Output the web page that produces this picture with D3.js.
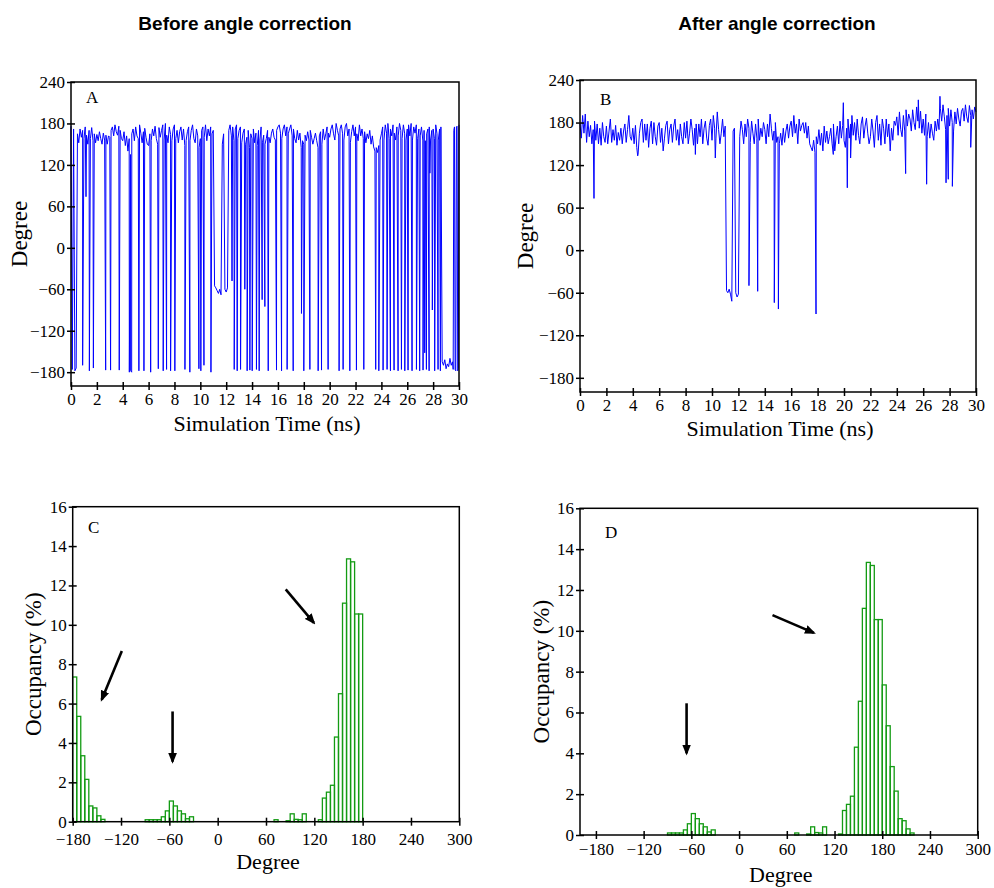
<!DOCTYPE html>
<html>
<head>
<meta charset="utf-8">
<script src="https://cdn.jsdelivr.net/npm/d3@7"></script>
<style>
  body { margin: 0; background: #fff; }
</style>
</head>
<body>
<div class="canvas"></div>
<script>
// ---- data ----
// torsion angle sampled every 0.1 ns (0 .. 30 ns), before correction
const angleBefore = [
  176, -176, 172, -178, -174, 165, 152, 172, 160, 170,
  158, 175, 163, 150, 170, 158, 174, 155, 165, 152,
  164, 155, 168, 158, 150, 166, 156, 163, 150, 162,
  160, 170, 175, 162, 178, 168, 163, 176, 170, 158,
  155, 168, 148, 162, 140, 158, 135, 165, 172, 155,
  175, 162, 158, 178, 166, 152, 168, 173, 160, 150,
  148, 165, 155, 172, 162, 176, 158, 150, 174, 160,
  170, 178, 156, 180, 163, 152, 175, 164, 155, 172,
  178, 158, 170, 152, 168, 175, 156, 172, 148, 155,
  168, 175, 155, 170, 178, 158, 152, 172, 162, 145,
  158, 170, 175, 160, 178, 155, 172, 162, 175, 165,
  170, -55, -58, -62, -66, -60, -68, 150, 165, -60,
  -64, -58, 170, 178, 162, 175, 155, 172, 178, 158,
  170, 175, 152, 166, 172, 150, 160, 170, 145, 165,
  158, 172, 152, 166, 148, 170, 156, 175, 152, 163,
  150, 158, 170, 160, 152, 166, 172, 160, 156, 170,
  175, 178, 166, 158, 172, 178, 162, 175, 165, 172,
  178, 162, 172, 158, 152, 170, 156, 166, 145, 155,
  150, 163, 155, 168, 156, 170, 160, 150, 158, 166,
  155, 145, 162, 168, 150, 172, 156, 165, 175, 166,
  160, 172, 178, 165, 156, 180, 170, 162, 172, 178,
  165, 156, 175, 180, 162, 172, 152, 168, 178, 162,
  175, 165, 155, 178, 162, 172, 158, 168, 152, 165,
  158, 170, 150, 162, 146, 140, 145, 138, 148, 156,
  165, 175, 156, 178, 166, 180, 158, 172, 162, 178,
  166, 156, 175, 162, 180, 170, 158, 178, 165, 156,
  172, 178, 162, 180, 156, 175, 166, 178, 158, 172,
  162, 175, 156, 170, 155, 165, 172, 175, 156, 170,
  172, 158, 178, 165, 156, 172, 175, -165, -170, -162,
  -175, -168, -172, -160, -170, -165, 170, -176, 175, -178,
  178
];
// short excursions between samples [ns, degree]
const dipsBefore = [
  [0.90, -170], [1.16, 74], [1.42, -178], [1.73, -174], [2.68, -177], [3.06, -177], [3.73, -177],
  [4.51, -180], [4.61, -178], [4.69, -180], [5.25, -178], [5.64, -178], [6.16, -180], [6.75, -175],
  [7.13, -178], [7.39, -176], [7.70, -178], [8.03, -178], [8.81, -176], [9.19, -180], [9.89, -175],
  [10.04, -178], [10.28, -170], [10.82, -180],
  [12.45, -48], [12.62, -176], [12.85, -178], [13.11, -176], [13.44, -60], [13.62, -178], [13.83, -177],
  [14.01, -178], [14.34, -176], [14.55, -178], [14.78, -75], [14.99, -85], [15.25, -178], [15.89, -177],
  [16.28, -178], [16.71, -176], [17.18, -178], [17.82, -95], [18.00, -178], [18.47, -176], [19.11, -178],
  [19.37, -177], [19.88, -176], [20.73, -178], [21.04, -176], [21.56, -178], [22.07, -177], [22.64, -176],
  [23.56, -176], [23.80, -178], [24.13, -177], [24.44, -176], [24.70, -178], [24.98, -177], [25.29, -178],
  [25.55, -176], [25.81, -178], [26.06, -177], [26.37, -178], [26.71, -176], [26.96, -178], [27.22, -177],
  [27.35, -152], [27.48, -176], [27.69, -178], [27.75, 108], [27.94, -90], [28.12, -178], [28.38, -176],
  [28.56, -178], [29.55, -176], [29.65, 175], [29.75, -178], [29.85, 176], [29.95, -175]
];

// torsion angle sampled every 0.1 ns, after correction
const angleAfter = [
  178, 158, 190, 165, 192, 152, 182, 160, 176, 150,
  170, 182, 155, 178, 150, 172, 148, 180, 160, 152,
  175, 150, 168, 185, 152, 170, 155, 176, 148, 166,
  155, 172, 150, 168, 178, 152, 170, 190, 160, 155,
  172, 150, 176, 145, 135, 165, 180, 185, 152, 178,
  155, 178, 145, 172, 182, 150, 180, 160, 148, 175,
  180, 152, 172, 140, 158, 176, 182, 150, 170, 178,
  152, 175, 185, 155, 170, 148, 178, 160, 150, 180,
  158, 182, 150, 165, 185, 170, 148, 172, 178, 150,
  178, 160, 185, 150, 172, 182, 158, 148, 176, 185,
  155, 190, 172, 158, 195, 170, 150, 165, 185, 160,
  175, -57, -60, -55, -62, -72, 168, 172, -60, -66,
  -62, 160, 182, 170, 150, 178, 160, 185, 172, 152,
  182, 165, 150, 178, 158, 185, 155, 172, 160, 180,
  170, 150, 178, 160, 192, 172, 155, 168, 180, 152,
  160, 150, 165, 148, 172, 152, 168, 178, 158, 175,
  182, 160, 190, 165, 178, 150, 185, 168, 176, 180,
  165, 180, 158, 175, 150, 145, 140, 155, 138, 160,
  150, 170, 148, 165, 140, 175, 152, 168, 150, 160,
  172, 150, 178, 140, 160, 175, 150, 182, 158, 176,
  155, 145, 172, 185, 158, 178, 190, 162, 180, 155,
  185, 162, 150, 178, 188, 158, 175, 186, 165, 150,
  160, 185, 168, 145, 180, 190, 155, 178, 148, 185,
  172, 150, 185, 160, 178, 140, 172, 155, 182, 176,
  188, 162, 195, 170, 160, 190, 168, 198, 175, 192,
  185, 168, 198, 180, 170, 202, 182, 172, 196, 165,
  185, 162, 192, 160, 180, 158, 178, 165, 155, 182,
  168, 185, 170, 200, 182, 205, 188, 170, 190, 200,
  175, 198, 180, 168, 195, 178, 200, 185, 175, 196,
  200, 182, 205, 188, 180, 204, 190, 198, 185, 202,
  195
];
const dipsAfter = [
  [1.06, 73], [4.37, 133], [8.74, 135], [10.25, 130],
  [12.80, -50], [13.46, -58], [14.72, -74], [15.03, -83], [17.88, -90],
  [19.19, 135], [19.95, 208], [20.25, 88], [20.50, 130], [24.67, 108], [25.63, 212],
  [26.26, 93], [27.27, 217], [27.73, 95], [27.90, 100], [28.21, 90], [29.60, 145]
];
const sampleStep = 0.1; // ns

// occupancy histograms, 5 degree bins [lower edge, %]
const binWidth = 5;
const occBefore = [
  [-180, 7.35], [-175, 5.35], [-170, 3.35], [-165, 2.15], [-160, 0.8], [-155, 0.7], [-150, 0.3], [-145, 0.12],
  [-90, 0.1], [-85, 0.1], [-80, 0.1], [-75, 0.1], [-70, 0.25], [-65, 0.55], [-60, 1.05], [-55, 0.8],
  [-50, 0.55], [-45, 0.4], [-40, 0.15], [-35, 0.25],
  [70, 0.1], [85, 0.05], [90, 0.4], [95, 0.12], [100, 0.1], [105, 0.4],
  [125, 0.1], [130, 1.2], [135, 1.5], [140, 1.85], [145, 4.3], [150, 6.5], [155, 11.1],
  [160, 13.35], [165, 13.2], [170, 10.55], [175, 10.55]
];
const occAfter = [
  [-90, 0.1], [-85, 0.1], [-80, 0.1], [-75, 0.1], [-70, 0.25], [-65, 0.55], [-60, 1.05], [-55, 0.8],
  [-50, 0.55], [-45, 0.4], [-40, 0.15], [-35, 0.25],
  [70, 0.1], [85, 0.05], [90, 0.4], [95, 0.12], [100, 0.1], [105, 0.4],
  [125, 0.05], [130, 1.2], [135, 1.5], [140, 1.9], [145, 4.3], [150, 6.55], [155, 11.1],
  [160, 13.35], [165, 13.2], [170, 10.55], [175, 10.55], [180, 7.35], [185, 5.35], [190, 3.35],
  [195, 2.15], [200, 0.8], [205, 0.7], [210, 0.3], [215, 0.1]
];

// arrows, in data units [x1, y1, x2, y2]
const arrowsC = [[-119, 8.67, -144, 6.2], [-56, 5.6, -56, 3.05], [84.5, 11.8, 119.5, 10.1]];
const arrowsD = [[-66, 6.45, -66, 4.0], [42, 10.77, 94, 9.9]];

// ticks
const timeTicks = d3.range(0, 31, 2);
const angleTicks = [-180, -120, -60, 0, 60, 120, 180, 240];
const degreeTicks = [-180, -120, -60, 0, 60, 120, 180, 240, 300];
const occTicks = [0, 2, 4, 6, 8, 10, 12, 14, 16];

// ---- drawing ----
const serif = '"Liberation Serif", "Times New Roman", serif';
const sans = '"Liberation Sans", Arial, sans-serif';

const svg = d3.select('.canvas')
  .append('svg')
  .attr('width', 994)
  .attr('height', 888)
  .style('font-family', serif);

svg.append('defs').append('marker')
  .attr('id', 'head')
  .attr('viewBox', '0 0 10 8')
  .attr('refX', 8).attr('refY', 4)
  .attr('markerWidth', 11).attr('markerHeight', 9)
  .attr('markerUnits', 'userSpaceOnUse')
  .attr('orient', 'auto')
  .append('path')
  .attr('d', 'M0,0 L10,4 L0,8 Z')
  .attr('fill', '#000');

// column titles
svg.append('text').attr('x', 245).attr('y', 30).attr('text-anchor', 'middle')
  .style('font-family', sans).style('font-weight', 'bold').style('font-size', '19px')
  .text('Before angle correction');
svg.append('text').attr('x', 777).attr('y', 30).attr('text-anchor', 'middle')
  .style('font-family', sans).style('font-weight', 'bold').style('font-size', '19px')
  .text('After angle correction');

function frame(p, x, y, xTicks, yTicks, xPad) {
  const g = svg.append('g');
  const xa = g.append('g')
    .attr('transform', `translate(0, ${p.bottom})`)
    .call(d3.axisBottom(x).tickValues(xTicks).tickSizeInner(4).tickSizeOuter(0).tickPadding(xPad));
  xa.selectAll('.tick line').attr('y1', -4).attr('stroke-width', 1.5);
  const ya = g.append('g')
    .attr('transform', `translate(${p.left}, 0)`)
    .call(d3.axisLeft(y).tickValues(yTicks).tickSizeInner(4).tickSizeOuter(0).tickPadding(2));
  ya.selectAll('.tick line').attr('x1', 4).attr('stroke-width', 1.5);
  g.selectAll('.domain').remove();
  g.selectAll('.tick text').style('font-family', serif).style('font-size', '17px').attr('fill', '#000');
  g.append('rect')
    .attr('x', p.left).attr('y', p.top)
    .attr('width', p.right - p.left).attr('height', p.bottom - p.top)
    .attr('fill', 'none').attr('stroke', '#000').attr('stroke-width', 1.5);
  return g;
}

function titles(p, xLabel, yLabel, xOff, yBase, letter, lx, ly) {
  svg.append('text')
    .attr('x', (p.left + p.right) / 2 + 2).attr('y', p.bottom + xOff)
    .attr('text-anchor', 'middle').style('font-size', '22px')
    .text(xLabel);
  svg.append('text')
    .attr('transform', `translate(${yBase}, ${(p.top + p.bottom) / 2}) rotate(-90)`)
    .attr('text-anchor', 'middle').style('font-size', '23px')
    .text(yLabel);
  svg.append('text').attr('x', lx).attr('y', ly).style('font-size', '17px').text(letter);
}

function tracePanel(p, samples, dips, letter, lx, ly, xOff, yBase, xPad) {
  const x = d3.scaleLinear().domain([0, 30]).range([p.left, p.right]);
  const y = d3.scaleLinear().domain([-200, 240]).range([p.bottom, p.top]);
  const pts = samples.map((v, i) => [i * sampleStep, v]).concat(dips)
    .sort((a, b) => a[0] - b[0]);
  svg.append('path')
    .datum(pts)
    .attr('d', d3.line().x(d => x(d[0])).y(d => y(d[1])))
    .attr('fill', 'none')
    .attr('stroke', '#0000ff')
    .attr('stroke-width', 1)
    .attr('stroke-linejoin', 'round');
  frame(p, x, y, timeTicks, angleTicks, xPad);
  titles(p, 'Simulation Time (ns)', 'Degree', xOff, yBase, letter, lx, ly);
}

function histPanel(p, bins, xMin, arrows, letter, lx, ly, xOff, yBase, xPad) {
  const x = d3.scaleLinear().domain([xMin, 300]).range([p.left, p.right]);
  const y = d3.scaleLinear().domain([0, 16]).range([p.bottom, p.top]);
  svg.append('g').selectAll('rect')
    .data(bins)
    .join('rect')
    .attr('x', d => x(d[0]))
    .attr('width', d => x(d[0] + binWidth) - x(d[0]))
    .attr('y', d => y(d[1]))
    .attr('height', d => y(0) - y(d[1]))
    .attr('fill', 'none')
    .attr('stroke', '#139b13')
    .attr('stroke-width', 1.3);
  svg.append('g').selectAll('line')
    .data(arrows)
    .join('line')
    .attr('x1', d => x(d[0])).attr('y1', d => y(d[1]))
    .attr('x2', d => x(d[2])).attr('y2', d => y(d[3]))
    .attr('stroke', '#000').attr('stroke-width', 2.6)
    .attr('marker-end', 'url(#head)');
  frame(p, x, y, degreeTicks.filter(t => t >= xMin), occTicks, xPad);
  titles(p, 'Degree', 'Occupancy (%)', xOff, yBase, letter, lx, ly);
}

tracePanel({ left: 71, top: 82, right: 459, bottom: 386 }, angleBefore, dipsBefore, 'A', 86, 103, 45, 27, 3);
tracePanel({ left: 580, top: 80, right: 976, bottom: 392 }, angleAfter, dipsAfter, 'B', 600, 105, 44, 533, 3);
histPanel({ left: 72.7, top: 506.7, right: 459.3, bottom: 821.7 }, occBefore, -180, arrowsC, 'C', 88, 533, 47, 41, 7);
histPanel({ left: 580, top: 508.3, right: 977.7, bottom: 835 }, occAfter, -200, arrowsD, 'D', 605, 538, 47, 549, 4);
</script>
</body>
</html>
